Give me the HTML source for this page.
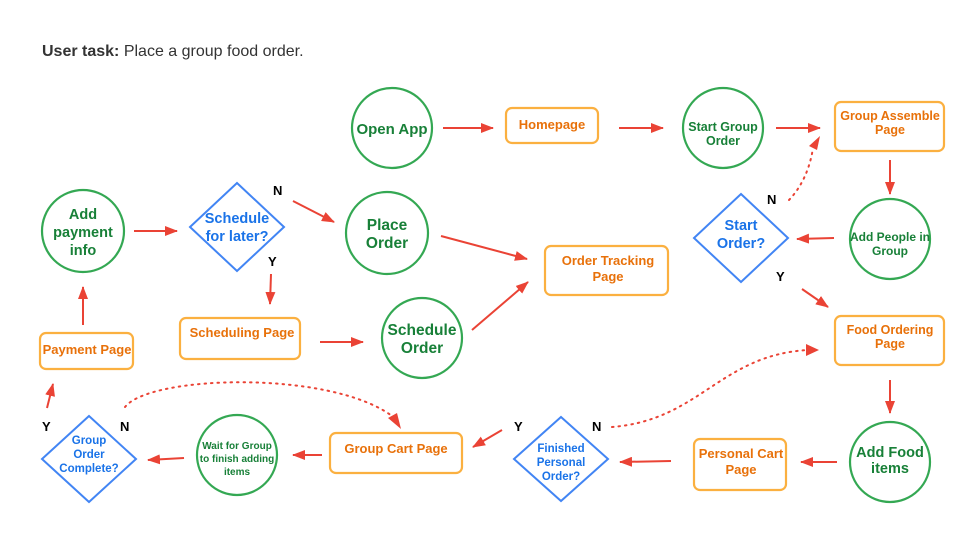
<!DOCTYPE html>
<html><head><meta charset="utf-8"><style>
body{margin:0;background:#fff;}
svg{display:block;font-family:"Liberation Sans",sans-serif;font-weight:bold;}
.c{fill:none;stroke:#34a853;stroke-width:2.2}
.r{fill:none;stroke:#fbb040;stroke-width:2.2}
.d{fill:none;stroke:#4285f4;stroke-width:2}
.a{stroke:#ea4335;stroke-width:2;fill:none}
.dt{stroke:#ea4335;stroke-width:2;fill:none;stroke-dasharray:1.5 5;stroke-linecap:round}
.g{fill:#188038;text-anchor:middle}
.o{fill:#e8710a;text-anchor:middle}
.b{fill:#1a73e8;text-anchor:middle}
.k{fill:#000;font-size:13px}
</style></head><body>
<svg width="960" height="540" viewBox="0 0 960 540">
<defs><marker id="m" markerWidth="13" markerHeight="10" refX="12" refY="5" orient="auto" markerUnits="userSpaceOnUse"><path d="M0,0 L13,5 L0,10 z" fill="#ea4335"/></marker></defs>
<text x="42" y="56" font-size="16" fill="#333">User task: <tspan font-weight="normal">Place a group food order.</tspan></text>

<circle class="c" cx="392" cy="128" r="40"/><text class="g" x="392" y="134" font-size="15">Open App</text>
<rect class="r" x="506" y="108" width="92" height="35" rx="6"/><text class="o" x="552" y="129" font-size="13">Homepage</text>
<circle class="c" cx="723" cy="128" r="40"/><text class="g" font-size="12.5"><tspan x="723" y="131">Start Group</tspan><tspan x="723" y="145">Order</tspan></text>
<rect class="r" x="835" y="102" width="109" height="49" rx="6"/><text class="o" font-size="12.5"><tspan x="890" y="120">Group Assemble</tspan><tspan x="890" y="134">Page</tspan></text>
<circle class="c" cx="890" cy="239" r="40"/><text class="g" font-size="12"><tspan x="890" y="241">Add People in</tspan><tspan x="890" y="255">Group</tspan></text>
<path class="d" d="M741,194 L788,238 L741,282 L694,238 z"/><text class="b" font-size="14.5"><tspan x="741" y="230">Start</tspan><tspan x="741" y="248">Order?</tspan></text>
<rect class="r" x="545" y="246" width="123" height="49" rx="6"/><text class="o" font-size="13"><tspan x="608" y="265">Order Tracking</tspan><tspan x="608" y="281">Page</tspan></text>
<rect class="r" x="835" y="316" width="109" height="49" rx="6"/><text class="o" font-size="12.5"><tspan x="890" y="334">Food Ordering</tspan><tspan x="890" y="348">Page</tspan></text>
<circle class="c" cx="890" cy="462" r="40"/><text class="g" font-size="14.5"><tspan x="890" y="457">Add Food</tspan><tspan x="890" y="473">items</tspan></text>
<rect class="r" x="694" y="439" width="92" height="51" rx="6"/><text class="o" font-size="13"><tspan x="741" y="458">Personal Cart</tspan><tspan x="741" y="474">Page</tspan></text>
<path class="d" d="M561,417 L608,459 L561,501 L514,459 z"/><text class="b" font-size="11.5"><tspan x="561" y="452">Finished</tspan><tspan x="561" y="466">Personal</tspan><tspan x="561" y="480">Order?</tspan></text>
<rect class="r" x="330" y="433" width="132" height="40" rx="6"/><text class="o" x="396" y="453" font-size="13">Group Cart Page</text>
<circle class="c" cx="237" cy="455" r="40"/><text class="g" font-size="10"><tspan x="237" y="449">Wait for Group</tspan><tspan x="237" y="462">to finish adding</tspan><tspan x="237" y="475">items</tspan></text>
<path class="d" d="M89,416 L136,459 L89,502 L42,459 z"/><text class="b" font-size="11.5"><tspan x="89" y="444">Group</tspan><tspan x="89" y="458">Order</tspan><tspan x="89" y="472">Complete?</tspan></text>
<rect class="r" x="40" y="333" width="93" height="36" rx="6"/><text class="o" x="87" y="354" font-size="13">Payment Page</text>
<circle class="c" cx="83" cy="231" r="41"/><text class="g" font-size="14.5"><tspan x="83" y="219">Add</tspan><tspan x="83" y="237">payment</tspan><tspan x="83" y="255">info</tspan></text>
<path class="d" d="M237,183 L284,227 L237,271 L190,227 z"/><text class="b" font-size="14.5"><tspan x="237" y="223">Schedule</tspan><tspan x="237" y="241">for later?</tspan></text>
<circle class="c" cx="387" cy="233" r="41"/><text class="g" font-size="15.5"><tspan x="387" y="230">Place</tspan><tspan x="387" y="248">Order</tspan></text>
<rect class="r" x="180" y="318" width="120" height="41" rx="6"/><text class="o" x="242" y="337" font-size="13">Scheduling Page</text>
<circle class="c" cx="422" cy="338" r="40"/><text class="g" font-size="15.5"><tspan x="422" y="335">Schedule</tspan><tspan x="422" y="353">Order</tspan></text>

<line class="a" x1="443" y1="128" x2="493" y2="128" marker-end="url(#m)"/>
<line class="a" x1="619" y1="128" x2="663" y2="128" marker-end="url(#m)"/>
<line class="a" x1="776" y1="128" x2="820" y2="128" marker-end="url(#m)"/>
<line class="a" x1="890" y1="160" x2="890" y2="194" marker-end="url(#m)"/>
<line class="a" x1="834" y1="238" x2="797" y2="239" marker-end="url(#m)"/>
<path class="dt" d="M789,200 Q808,180 813,148"/><path d="M809,146 L820,136 L817,150 z" fill="#ea4335"/>
<line class="a" x1="802" y1="289" x2="828" y2="307" marker-end="url(#m)"/>
<line class="a" x1="890" y1="380" x2="890" y2="413" marker-end="url(#m)"/>
<line class="a" x1="837" y1="462" x2="801" y2="462" marker-end="url(#m)"/>
<line class="a" x1="671" y1="461" x2="620" y2="462" marker-end="url(#m)"/>
<path class="dt" d="M612,427 C700,420 720,355 808,350"/><path d="M806,344 L819,350 L806,356 z" fill="#ea4335"/>
<line class="a" x1="502" y1="430" x2="473" y2="447" marker-end="url(#m)"/>
<line class="a" x1="322" y1="455" x2="293" y2="455" marker-end="url(#m)"/>
<line class="a" x1="184" y1="458" x2="148" y2="460" marker-end="url(#m)"/>
<path class="dt" d="M125,407 C150,375 330,370 392,416"/><path d="M388,418 L401,429 L397,413 z" fill="#ea4335"/>
<line class="a" x1="47" y1="408" x2="53" y2="384" marker-end="url(#m)"/>
<line class="a" x1="83" y1="325" x2="83" y2="287" marker-end="url(#m)"/>
<line class="a" x1="134" y1="231" x2="177" y2="231" marker-end="url(#m)"/>
<line class="a" x1="293" y1="201" x2="334" y2="222" marker-end="url(#m)"/>
<line class="a" x1="271" y1="274" x2="270" y2="304" marker-end="url(#m)"/>
<line class="a" x1="320" y1="342" x2="363" y2="342" marker-end="url(#m)"/>
<line class="a" x1="441" y1="236" x2="527" y2="259" marker-end="url(#m)"/>
<line class="a" x1="472" y1="330" x2="528" y2="282" marker-end="url(#m)"/>

<text class="k" x="273" y="195">N</text><text class="k" x="268" y="266">Y</text>
<text class="k" x="767" y="204">N</text><text class="k" x="776" y="281">Y</text>
<text class="k" x="592" y="431">N</text><text class="k" x="514" y="431">Y</text>
<text class="k" x="120" y="431">N</text><text class="k" x="42" y="431">Y</text>
</svg>
</body></html>
